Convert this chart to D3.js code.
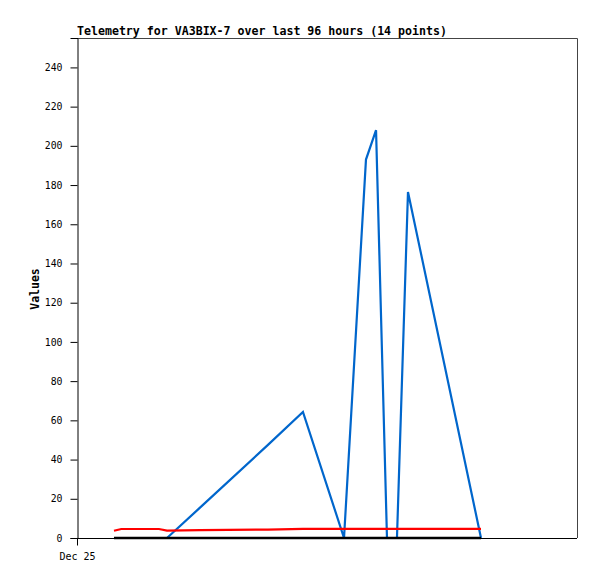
<!DOCTYPE html>
<html>
<head>
<meta charset="utf-8">
<script src="https://cdn.jsdelivr.net/npm/d3@7"></script>
<style>
  html, body { margin: 0; padding: 0; background: #fff; }
  svg { display: block; }
</style>
</head>
<body>
<svg id="chart" width="597" height="579"></svg>
<script>
// ---- data ----
const titleText = "Telemetry for VA3BIX-7 over last 96 hours (14 points)";
const yAxisLabel = "Values";
const times = [
  "2024-12-25T07:06", "2024-12-25T08:30", "2024-12-25T15:44", "2024-12-25T17:17",
  "2024-12-25T23:37", "2024-12-26T12:40", "2024-12-26T19:23", "2024-12-27T03:16",
  "2024-12-27T07:29", "2024-12-27T09:25", "2024-12-27T11:31", "2024-12-27T13:26",
  "2024-12-27T15:33", "2024-12-28T05:34"
];
const blueValues  = [0, 0, 0, 0, 15.5, 47.5, 64.3, 0, 193, 208, 0, 0, 176.5, 0];
const redValues   = [3.7, 4.6, 4.6, 3.8, 4.0, 4.3, 4.7, 4.7, 4.7, 4.7, 4.7, 4.7, 4.7, 4.7];
const blackValues = [0, 0, 0, 0, 0, 0, 0, 0, 0, 0, 0, 0, 0, 0];
const yTicks = [0, 20, 40, 60, 80, 100, 120, 140, 160, 180, 200, 220, 240];
const yMax = 255;
const xStart = "2024-12-25T00:00";
const xEnd = "2024-12-29T00:00";
const xTickLabels = ["Dec 25"];
const xTickTimes = ["2024-12-25T00:00"];

// ---- layout ----
const mLeft = 77, mRight = 577, mTop = 38, mBottom = 538;
const parse = d3.isoParse;
const svg = d3.select("#chart");

const x = d3.scaleTime().domain([parse(xStart), parse(xEnd)]).range([mLeft, mRight]);
const y = d3.scaleLinear().domain([0, yMax]).range([mBottom, mTop]);

// frame (top and right borders)
svg.append("path")
  .attr("d", `M${mLeft},${mTop + 0.5}H${mRight + 0.5}V${mBottom}`)
  .attr("fill", "none").attr("stroke", "#444").attr("stroke-width", 1);

const mono = "'DejaVu Sans Mono', 'Liberation Mono', monospace";

// y axis
const yAxis = d3.axisLeft(y).tickValues(yTicks).tickSize(7).tickPadding(8).tickFormat(d3.format("d"));
const gy = svg.append("g").attr("transform", `translate(${mLeft + 0.5},0)`).call(yAxis);
gy.select(".domain").attr("stroke", "#000");
gy.selectAll(".tick line").attr("stroke", "#000");
gy.selectAll(".tick text").attr("font-family", mono).attr("font-size", "9.8px").attr("fill", "#000");

// x axis
const xAxis = d3.axisBottom(x).tickValues(xTickTimes.map(parse))
  .tickSize(7).tickPadding(7).tickFormat((d, i) => xTickLabels[i]);
const gx = svg.append("g").attr("transform", `translate(0,${mBottom + 0.5})`).call(xAxis);
gx.select(".domain").attr("stroke", "#000").attr("d", `M${mLeft},0H${mRight}`);
gx.selectAll(".tick line").attr("stroke", "#000");
gx.selectAll(".tick text").attr("font-family", mono).attr("font-size", "10px").attr("fill", "#000");

// series
const pts = (vals) => vals.map((v, i) => [parse(times[i]), v]);
const line = d3.line().x(d => x(d[0])).y(d => y(d[1]));

svg.append("path").datum(pts(blueValues)).attr("d", line)
  .attr("fill", "none").attr("stroke", "#0066CC").attr("stroke-width", 2.2);
svg.append("path").datum(pts(redValues)).attr("d", line)
  .attr("fill", "none").attr("stroke", "#FF0000").attr("stroke-width", 2.2);
svg.append("path").datum(pts(blackValues)).attr("d", line)
  .attr("fill", "none").attr("stroke", "#000").attr("stroke-width", 2.6);

// title
svg.append("text").attr("x", mLeft).attr("y", 35)
  .attr("font-family", mono).attr("font-size", "11.6px").attr("font-weight", "bold")
  .attr("fill", "#000").text(titleText);

// y label
svg.append("text").attr("transform", `translate(38.5,${(mTop + mBottom) / 2 + 1}) rotate(-90)`)
  .attr("text-anchor", "middle")
  .attr("font-family", mono).attr("font-size", "11.5px").attr("font-weight", "bold")
  .attr("fill", "#000").text(yAxisLabel);
</script>
</body>
</html>
